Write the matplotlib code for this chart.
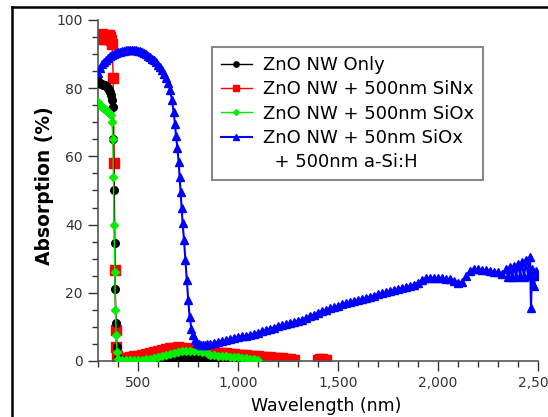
import matplotlib
matplotlib.use("Agg")
import matplotlib.pyplot as plt
import numpy as np
from matplotlib.lines import Line2D
from matplotlib.ticker import MultipleLocator, FuncFormatter

# ---- data (wavelength in nm, absorption in %) ----
only_wl = [300, 305, 310, 315, 320, 325, 330, 335, 340, 345, 350, 355, 360, 365, 370,
           374, 377, 380, 383, 386, 390, 395, 400,
           420, 440, 460, 480, 500, 520, 540, 560, 580, 600, 620, 640, 660, 680, 700,
           720, 740, 760, 780, 800, 820, 840, 860, 880, 900, 950, 1000, 1050, 1100]
only_abs = [82.0, 81.5, 81.5, 81.3, 81.2, 81.0, 81.0, 80.8, 80.5, 80.3, 80.0, 79.6, 79.0, 78.0, 76.5,
            74.5, 65.0, 50.0, 34.5, 21.0, 11.0, 4.0, 0.8,
            0.3, 0.1, 0.0, 0.0, 0.0, 0.0, 0.0, 0.0, 0.0, 0.0, 0.1, 0.2, 0.4, 0.8, 1.0,
            1.0, 1.0, 1.0, 0.9, 0.8, 0.5, 0.2, 0.1, 0.0, 0.0, 0.0, 0.0, 0.0, 0.0]

sinx_wl = [300, 305, 310, 315, 320, 325, 330, 335, 340, 345, 350, 355, 360, 365, 370,
           376, 381, 385, 389, 392, 396, 400,
           420, 440, 460, 480, 500, 520, 540, 560, 580, 600, 620, 640, 660, 680, 700,
           720, 740, 760, 780, 800, 820, 840, 860, 880, 900, 920, 940, 960, 980, 1000,
           1020, 1040, 1060, 1080, 1100, 1120, 1140, 1160, 1180, 1200, 1220, 1240, 1260, 1280,
           1300, 1400, 1410, 1420, 1430, 1440]
sinx_abs = [95.5, 95.0, 94.5, 95.5, 96.0, 95.0, 94.5, 95.0, 95.5, 95.0, 94.5, 95.5, 95.0, 94.0, 93.0,
            83.0, 58.0, 26.7, 9.0, 4.0, 1.5, 0.8,
            0.9, 1.0, 1.2, 1.4, 1.6, 1.8, 2.0, 2.3, 2.5, 2.8, 3.1, 3.4, 3.7, 3.9, 4.0,
            3.9, 3.7, 3.5, 3.3, 3.1, 3.0, 2.8, 2.6, 2.5, 2.4, 2.3, 2.2, 2.1, 2.0, 1.9,
            1.8, 1.7, 1.6, 1.5, 1.4, 1.3, 1.2, 1.1, 1.0, 0.9, 0.8, 0.7, 0.5, 0.3,
            np.nan, 0.4, 0.5, 0.5, 0.4, 0.3]

siox_wl = [300, 305, 310, 315, 320, 325, 330, 335, 340, 345, 350, 355, 360, 365, 370,
           374, 377, 380, 384, 387, 391, 395, 400,
           420, 440, 460, 480, 500, 520, 540, 560, 580, 600, 620, 640, 660, 680, 700,
           720, 740, 760, 780, 800, 820, 840, 850, 860, 880, 900, 920, 940, 960, 980, 1000,
           1020, 1040, 1060, 1080, 1100]
siox_abs = [76.0, 75.5, 75.0, 74.8, 74.5, 74.3, 74.0, 73.8, 73.5, 73.3, 73.0, 72.8, 72.5, 72.0, 70.0,
            65.0, 54.0, 40.0, 26.0, 15.0, 7.6, 2.6, 0.5,
            0.3, 0.2, 0.2, 0.2, 0.3, 0.4, 0.5, 0.7, 0.9, 1.2, 1.5, 1.8, 2.1, 2.4, 2.6,
            2.8, 2.8, 2.8, 2.8, 2.8, 2.7, 2.6, 2.0, 1.8, 1.7, 1.6, 1.5, 1.4, 1.3, 1.2, 1.1,
            1.0, 0.9, 0.7, 0.5, 0.3]

asi_wl = [300, 310, 320, 330, 340, 350, 360, 370, 380, 390, 400, 410, 420, 430, 440,
          450, 460, 470, 480, 490, 500, 510, 520, 530, 540, 550, 560, 570, 580, 590,
          600, 610, 620, 630, 640, 650, 660, 670, 678, 685, 690, 697, 703, 708, 713,
          718, 723, 730, 737, 744, 751, 758, 767, 775, 785, 795, 805, 815, 825, 835,
          845, 860, 880, 900, 920, 940, 960, 980, 1000, 1020, 1040, 1060, 1080, 1100,
          1120, 1140, 1160, 1180, 1200, 1220, 1240, 1260, 1280, 1300, 1320, 1340, 1360,
          1380, 1400, 1420, 1440, 1460, 1480, 1500, 1520, 1540, 1560, 1580, 1600, 1620,
          1640, 1660, 1680, 1700, 1720, 1740, 1760, 1780, 1800, 1820, 1840, 1860, 1880,
          1900, 1920, 1940, 1960, 1980, 2000, 2020, 2040, 2060, 2080, 2100, 2120, 2140,
          2160, 2180, 2200, 2220, 2240, 2260, 2280, 2300, 2320, 2340, 2350, 2360, 2370,
          2380, 2390, 2400, 2410, 2420, 2430, 2440, 2450, 2460, 2465, 2470, 2480, 2490, 2500]
asi_abs = [84.5, 86.0, 87.0, 87.8, 88.4, 88.9, 89.3, 89.7, 90.0, 90.3, 90.5, 90.7, 90.9, 91.0, 91.1,
           91.2, 91.3, 91.3, 91.3, 91.2, 91.0, 90.8, 90.5, 90.2, 89.9, 89.5, 89.1, 88.7, 88.2, 87.6,
           86.9, 86.1, 85.2, 84.2, 83.0, 81.5, 79.5, 76.5, 73.0, 69.5, 66.0, 62.5, 58.5, 54.0, 49.5,
           45.0, 40.5, 35.5, 29.5, 23.7, 18.0, 13.0, 9.5, 7.5, 6.2, 5.4, 5.0, 4.8, 4.7, 4.8,
           4.9, 5.1, 5.3, 5.6, 5.8, 6.1, 6.4, 6.7, 7.0, 7.2, 7.4, 7.7, 8.0, 8.3,
           8.7, 9.0, 9.4, 9.8, 10.2, 10.5, 10.8, 11.1, 11.4, 11.7, 12.1, 12.6, 13.1,
           13.6, 14.1, 14.6, 15.0, 15.4, 15.8, 16.2, 16.6, 16.9, 17.2, 17.5, 17.8, 18.1,
           18.4, 18.8, 19.2, 19.6, 19.9, 20.2, 20.5, 20.8, 21.0, 21.3, 21.7, 22.0, 22.4,
           23.0, 23.8, 24.2, 24.3, 24.2, 24.3, 24.2, 24.1, 24.0, 23.6, 23.0, 23.2, 25.0,
           26.5, 27.0, 27.0, 26.8, 26.6, 26.4, 26.2, 26.0, 25.6, 27.0, 24.5, 27.5, 24.5,
           28.0, 24.5, 28.5, 25.0, 29.0, 24.5, 29.5, 25.0, 30.5, 15.5, 27.0, 22.0, 26.5, 25.0]

labels = ["ZnO NW Only", "ZnO NW + 500nm SiNx", "ZnO NW + 500nm SiOx",
          "ZnO NW + 50nm SiOx", "  + 500nm a-Si:H"]

W, H = 548, 417
fig = plt.figure(figsize=(W / 100, H / 100), dpi=100)
ax = fig.add_axes([98 / W, (H - 361) / H, 440 / W, 341 / H])

l1, = ax.plot(only_wl, only_abs, color="black", lw=1, marker="o", ms=5.5, mec="black", zorder=3)
l2, = ax.plot(sinx_wl, sinx_abs, color="red", lw=1, marker="s", ms=6.5, mec="red", zorder=2)
l3, = ax.plot(siox_wl, siox_abs, color="#00ee00", lw=1, marker="D", ms=4.2, mec="#00ee00", zorder=4)
l4, = ax.plot(asi_wl, asi_abs, color="blue", lw=1.5, marker="^", ms=6, mec="blue", zorder=5)

ax.set_xlim(300, 2500)
ax.set_ylim(0, 100)
ax.xaxis.set_major_locator(MultipleLocator(500))
ax.xaxis.set_minor_locator(MultipleLocator(100))
ax.yaxis.set_major_locator(MultipleLocator(20))
ax.yaxis.set_minor_locator(MultipleLocator(5))
ax.xaxis.set_major_formatter(FuncFormatter(lambda v, p: f"{v:,.0f}"))

for s in ["top", "right"]:
    ax.spines[s].set_visible(False)
for s in ["left", "bottom"]:
    ax.spines[s].set_color("#555555")
    ax.spines[s].set_linewidth(1.2)
ax.tick_params(which="major", length=7, width=1, color="#333333", labelsize=10,
               labelcolor="#333333", pad=4)
ax.tick_params(which="minor", length=4, width=1, color="#333333")

ax.set_xlabel("Wavelength (nm)", fontsize=12.5)
ax.xaxis.set_label_coords((326 - 98) / 440, -0.105)
ax.set_ylabel("Absorption (%)", fontsize=13.5, fontweight="bold")
ax.yaxis.set_label_coords(-0.10, 0.513)

blank = Line2D([], [], linestyle="none")
leg = fig.legend([l1, l2, l3, l4, blank], labels, loc="upper left",
                 bbox_to_anchor=(212 / W, 1 - 47 / H), bbox_transform=fig.transFigure,
                 borderaxespad=0, fontsize=13, frameon=True, fancybox=False,
                 framealpha=1, edgecolor="#888888", handlelength=1.7,
                 handletextpad=0.6, borderpad=0.5, labelspacing=0.35, markerscale=0.7)
leg.get_frame().set_linewidth(1.5)

# outer frame lines (top and left) as seen in the reference
fig.add_artist(Line2D([12 / W, 1], [1 - 7 / H, 1 - 7 / H], transform=fig.transFigure,
                      color="black", lw=1.8))
fig.add_artist(Line2D([12 / W, 12 / W], [0, 1 - 7 / H], transform=fig.transFigure,
                      color="black", lw=1.8))

fig.savefig("out.png", dpi=100)
